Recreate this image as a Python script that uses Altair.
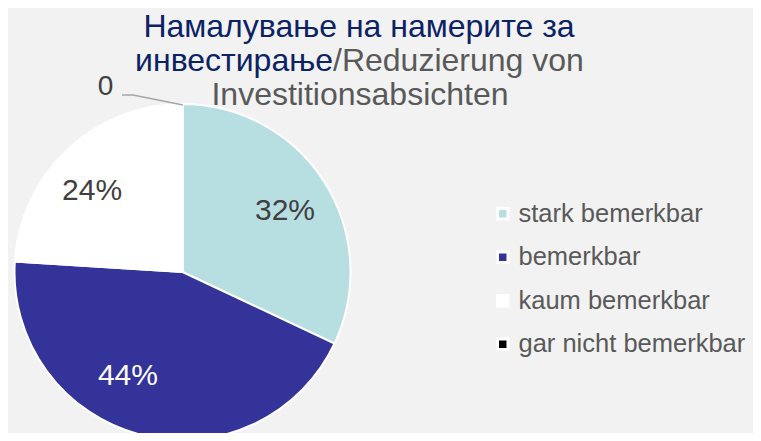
import altair as alt
import pandas as pd

# ---- data ----
categories = ["stark bemerkbar", "bemerkbar", "kaum bemerkbar", "gar nicht bemerkbar"]
values = [32, 44, 24, 0]
labels = ["32%", "44%", "24%", "0"]
colors = ["#b7dfe2", "#333399", "#ffffff", "#000000"]

title_line1 = "Намалување на намерите за"
title_line2a = "инвестирање"
title_line2b = "/Reduzierung von"
title_line3 = "Investitionsabsichten"

df = pd.DataFrame({
    "cat": categories,
    "value": values,
    "label": labels,
    "ord": list(range(len(categories))),
})

FONT = "Liberation Sans"
CX, CY, R = 174.5, 264, 168

base = alt.Chart(df)

theta = alt.Theta("value:Q", stack=True)
order = alt.Order("ord:Q")

pie = base.mark_arc(outerRadius=R, stroke="white", strokeWidth=2).encode(
    theta=theta,
    order=order,
    x=alt.value(CX),
    y=alt.value(CY),
    color=alt.Color(
        "cat:N",
        scale=alt.Scale(domain=categories, range=colors),
        sort=categories,
        legend=alt.Legend(
            title=None,
            orient="none",
            legendX=482,
            legendY=193,
            symbolType="square",
            symbolSize=110,
            symbolStrokeColor="white",
            symbolStrokeWidth=3,
            labelFont=FONT,
            labelFontSize=25.5,
            labelColor="#595959",
            labelOffset=3,
            rowPadding=16.5,
            labelLimit=400,
        ),
    ),
)

# per-label nudges (Excel best-fit placement)
nudges = {
    "stark bemerkbar": (2, 3, "#404040"),
    "bemerkbar": (-25, -11, "#ffffff"),
    "kaum bemerkbar": (-9, 6, "#404040"),
}

label_layers = []
for cat, (dx, dy, col) in nudges.items():
    label_layers.append(
        base.mark_text(font=FONT, fontSize=30, color=col, dx=dx, dy=dy, baseline="middle")
        .encode(
            theta=theta,
            order=order,
            x=alt.value(CX),
            y=alt.value(CY),
            radius=alt.value(119),
            text="label:N",
            opacity=alt.condition(alt.datum.cat == cat, alt.value(1), alt.value(0)),
        )
    )

zero_label = (
    base.mark_text(font=FONT, fontSize=28, color="#404040", dx=-77, baseline="middle")
    .encode(
        theta=theta,
        order=order,
        x=alt.value(CX),
        y=alt.value(CY),
        radius=alt.value(185),
        text="label:N",
        opacity=alt.condition(alt.datum.value == 0, alt.value(1), alt.value(0)),
    )
)

one = alt.Chart(pd.DataFrame({"a": [0]}))
leader1 = one.mark_rule(color="#a6a6a6", strokeWidth=1.5).encode(
    x=alt.value(114), x2=alt.value(125), y=alt.value(87), y2=alt.value(87)
)
leader2 = one.mark_rule(color="#a6a6a6", strokeWidth=1.5).encode(
    x=alt.value(125), x2=alt.value(175), y=alt.value(87), y2=alt.value(97)
)

TS = 32
t1 = one.mark_text(font=FONT, fontSize=TS, color="#0b2265", align="center", baseline="alphabetic").encode(
    x=alt.value(351), y=alt.value(28.5), text=alt.value(title_line1)
)
t2a = one.mark_text(font=FONT, fontSize=TS, color="#0b2265", align="right", baseline="alphabetic").encode(
    x=alt.value(325), y=alt.value(62.5), text=alt.value(title_line2a)
)
t2b = one.mark_text(font=FONT, fontSize=TS, color="#595959", align="left", baseline="alphabetic").encode(
    x=alt.value(325), y=alt.value(62.5), text=alt.value(title_line2b)
)
t3 = one.mark_text(font=FONT, fontSize=TS, color="#595959", align="center", baseline="alphabetic").encode(
    x=alt.value(352), y=alt.value(97), text=alt.value(title_line3)
)

chart = alt.layer(
    pie, *label_layers, zero_label, leader1, leader2, t1, t2a, t2b, t3
).properties(
    width=745,
    height=425,
    autosize=alt.AutoSizeParams(type="none"),
    padding=0,
    background="#f2f2f2",
).configure_view(stroke=None)

chart.save("out.html", embed_options={"renderer": "svg", "actions": False})
